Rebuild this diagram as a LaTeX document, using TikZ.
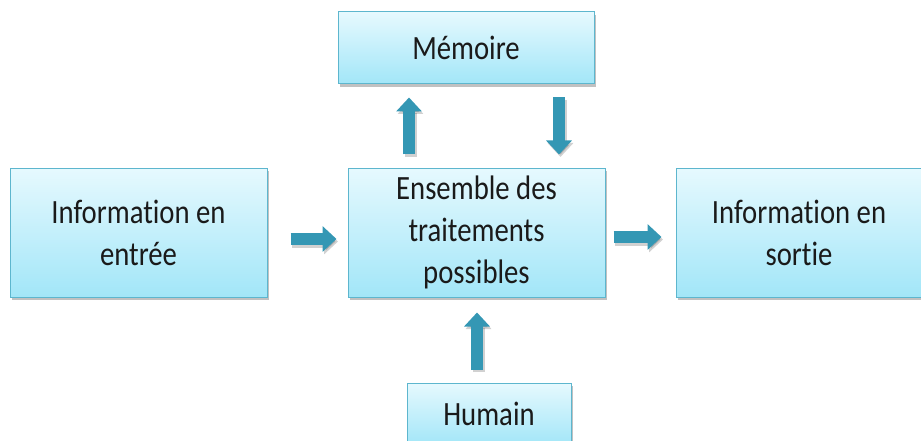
\documentclass[tikz,border=0pt]{standalone}
\usepackage{fontspec}
\setmainfont[FakeStretch=0.845,Ligatures=NoCommon]{Carlito}
\usetikzlibrary{shadows,arrows.meta}
\definecolor{boxtop}{HTML}{E6F9FE}
\definecolor{boxbot}{HTML}{A2E6F8}
\definecolor{boxline}{HTML}{5DB6CE}
\definecolor{arrowfill}{HTML}{3497B4}
\definecolor{txt}{HTML}{1A1A1A}
\begin{document}
\begin{tikzpicture}[x=1pt,y=-1pt,
  blk/.style={draw=boxline, line width=1pt, top color=boxtop, bottom color=boxbot,
    text=txt, align=center, inner sep=0pt,
    font=\fontsize{34}{42}\selectfont,
    drop shadow={shadow xshift=2pt, shadow yshift=-3pt, opacity=0.35, fill=black!70}},
  flow/.style={line width=12pt, draw=arrowfill,
    -{Triangle[width=25pt,length=14pt]}},
  flowshadow/.style={line width=12pt, draw=black, opacity=0.18,
    -{Triangle[width=25pt,length=14pt]}}]
\useasboundingbox (0,0) rectangle (921,441);
% boxes
\node[blk, minimum width=256pt, minimum height=72pt] (mem) at (466,48) {Mémoire};
\node[blk, minimum width=257pt, minimum height=129pt] (in) at (138.5,232.5) {Information en\\entrée};
\node[blk, minimum width=257pt, minimum height=129pt] (proc) at (476.5,232.5) {Ensemble des\\traitements\\possibles};
\node[blk, minimum width=246pt, minimum height=129pt] (out) at (799,232.5) {Information en\\sortie};
\node[blk, minimum width=164pt, minimum height=62pt] (hum) at (489,414) {Humain};
% soft shadows under the block arrows
\begin{scope}[transform canvas={xshift=1.5pt,yshift=-2.5pt}]
  \draw[flowshadow] ([shift={(23,6.5)}]in.east) -- ([shift={(-11,6.5)}]proc.west);
  \draw[flowshadow] ([shift={(8,4.5)}]proc.east) -- ([shift={(-14,4.5)}]out.west);
  \draw[flowshadow] ([xshift=-67.5,yshift=13]proc.north) -- ([xshift=-57,yshift=-13]mem.south);
  \draw[flowshadow] ([xshift=93,yshift=-13]mem.south) -- ([xshift=82.5,yshift=13]proc.north);
  \draw[flowshadow] ([xshift=-12,yshift=13]hum.north) -- ([xshift=0.5,yshift=-15]proc.south);
\end{scope}
% block arrows between boxes
\draw[flow] ([shift={(23,6.5)}]in.east) -- ([shift={(-11,6.5)}]proc.west);
\draw[flow] ([shift={(8,4.5)}]proc.east) -- ([shift={(-14,4.5)}]out.west);
\draw[flow] ([xshift=-67.5,yshift=13]proc.north) -- ([xshift=-57,yshift=-13]mem.south);
\draw[flow] ([xshift=93,yshift=-13]mem.south) -- ([xshift=82.5,yshift=13]proc.north);
\draw[flow] ([xshift=-12,yshift=13]hum.north) -- ([xshift=0.5,yshift=-15]proc.south);
\end{tikzpicture}
\end{document}
